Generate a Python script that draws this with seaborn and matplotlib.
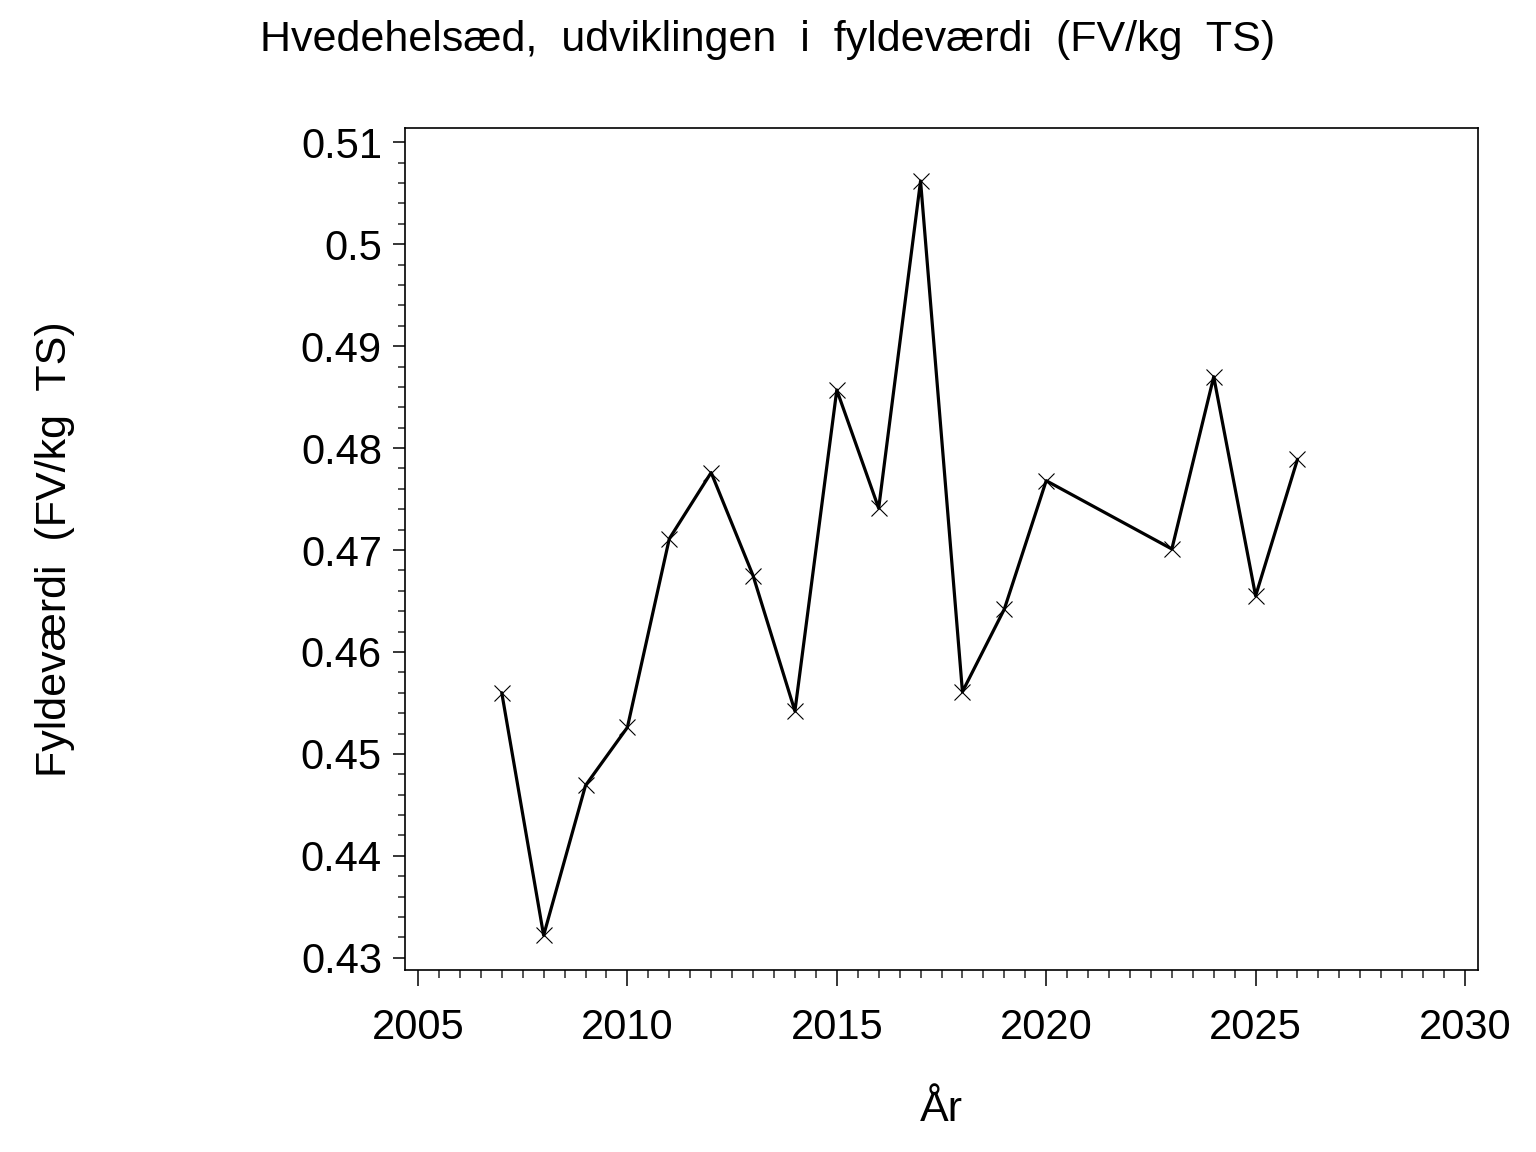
import matplotlib
matplotlib.use("Agg")
from matplotlib import pyplot as plt
from matplotlib.ticker import MultipleLocator
import pandas as pd
import seaborn as sns

# fill values per year
years = [2007, 2008, 2009, 2010, 2011, 2012, 2013, 2014, 2015, 2016,
         2017, 2018, 2019, 2020, 2023, 2024, 2025, 2026]
fyldevaerdi = [0.4560, 0.4322, 0.4469, 0.4526, 0.4711, 0.4776, 0.4675, 0.4542, 0.4857, 0.4741,
               0.5062, 0.4561, 0.4642, 0.4768, 0.4701, 0.4870, 0.4655, 0.4789]

title = "Hvedehelsæd,  udviklingen  i  fyldeværdi  (FV/kg  TS)"
x_label = "År"
y_label = "Fyldeværdi  (FV/kg  TS)"

df = pd.DataFrame({"aar": years, "fv": fyldevaerdi})

sns.set_theme(style="ticks")
plt.rcParams["font.family"] = ["Liberation Sans", "DejaVu Sans"]
plt.rcParams["text.color"] = "black"
plt.rcParams["axes.labelcolor"] = "black"

fig = plt.figure(figsize=(15.36, 11.52), dpi=100)
ax = fig.add_axes([405 / 1536, 1 - 970 / 1152, 1073 / 1536, 842 / 1152])

sns.lineplot(data=df, x="aar", y="fv", ax=ax, color="black", linewidth=2.3,
             marker="x", markersize=11.5, markeredgewidth=0.8,
             markeredgecolor="black")

ax.set_xlim(2004.69, 2030.31)
ax.set_ylim(0.4288, 0.5114)
ax.xaxis.set_major_locator(MultipleLocator(5))
ax.xaxis.set_minor_locator(MultipleLocator(0.5))
ax.yaxis.set_major_locator(MultipleLocator(0.01))
ax.yaxis.set_minor_locator(MultipleLocator(0.002))
ax.yaxis.set_major_formatter(plt.FuncFormatter(lambda v, p: f"{v:.2f}".rstrip("0")))

for s in ax.spines.values():
    s.set_visible(True)
    s.set_color("black")
    s.set_linewidth(1.2)

ax.tick_params(axis="x", which="major", length=11.5, width=1.1, pad=16,
               labelsize=30, colors="black")
ax.tick_params(axis="x", which="minor", length=6, width=1.1)
ax.tick_params(axis="y", which="major", length=8.6, width=1.1, pad=8,
               labelsize=30, colors="black")
ax.tick_params(axis="y", which="minor", length=5, width=1.1)

ax.set_xlabel(x_label, fontsize=31, va="center", color="black")
ax.xaxis.set_label_coords(0.5, -(1110 - 970) / 842)
ax.set_ylabel(y_label, fontsize=31, va="center", color="black")
ax.yaxis.set_label_coords(-(405 - 55) / 1073, 0.5)

fig.suptitle(title, fontsize=31, y=1 - 40 / 1152, va="center", x=0.5, color="black")

fig.savefig("out.png", dpi=100, facecolor="white")
